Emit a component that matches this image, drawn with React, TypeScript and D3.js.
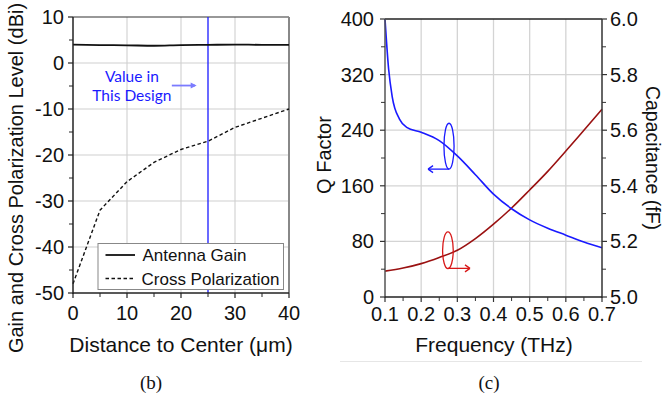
import React from "react";
import * as d3 from "d3";

// ---------- Data: panel (b) ----------
const distance = [0, 5, 10, 15, 20, 25, 30, 35, 40];
const antennaGain = [4.0, 3.9, 3.85, 3.75, 3.9, 3.95, 4.0, 3.95, 3.95];
const crossPol = [-48, -32, -25.8, -21.6, -18.8, -17, -14, -12, -10];
const bXTicks = [0, 10, 20, 30, 40];
const bYTicks = [10, 0, -10, -20, -30, -40, -50];
const designDistance = 25;

// ---------- Data: panel (c) ----------
const freqQ = [0.1, 0.11, 0.12, 0.14, 0.16, 0.2, 0.25, 0.3, 0.35, 0.4, 0.45, 0.5, 0.55, 0.6, 0.65, 0.7];
const qFactor = [400, 328, 288, 256, 244, 237, 225, 203, 176, 148, 127, 111, 99, 89, 79, 71];
const freqC = [0.1, 0.15, 0.2, 0.25, 0.3, 0.35, 0.4, 0.45, 0.5, 0.55, 0.6, 0.65, 0.7];
const capacitance = [5.093, 5.104, 5.12, 5.142, 5.168, 5.21, 5.262, 5.32, 5.385, 5.452, 5.525, 5.6, 5.675];
const cXTicks = [0.1, 0.2, 0.3, 0.4, 0.5, 0.6, 0.7];
const cQTicks = [0, 80, 160, 240, 320, 400];
const cCTicks = [5.0, 5.2, 5.4, 5.6, 5.8, 6.0];

const FONT = "'Liberation Sans', Arial, Helvetica, sans-serif";

function PanelB() {
  const x = d3.scaleLinear().domain([0, 40]).range([73, 289]);
  const y = d3.scaleLinear().domain([-50, 10]).range([293, 17]);
  const line = d3.line<[number, number]>().x(d => x(d[0])).y(d => y(d[1]));
  const smooth = d3.line<[number, number]>().x(d => x(d[0])).y(d => y(d[1])).curve(d3.curveMonotoneX);
  const gainPts = distance.map((d, i) => [d, antennaGain[i]] as [number, number]);
  const xpPts = distance.map((d, i) => [d, crossPol[i]] as [number, number]);
  const minorX = d3.range(5, 40, 10);
  const minorY = d3.range(-45, 10, 10);
  const [x0, x1] = x.range();
  const [y0, y1] = y.range();
  return (
    <g>
      {/* grid */}
      {bXTicks.slice(1, -1).map(t => (
        <line key={"gx" + t} x1={x(t)} x2={x(t)} y1={y1} y2={y0} stroke="#dcdcdc" strokeWidth={1.5} />
      ))}
      {bYTicks.slice(1, -1).map(t => (
        <line key={"gy" + t} x1={x0} x2={x1} y1={y(t)} y2={y(t)} stroke="#cfcfcf" strokeWidth={1} />
      ))}
      {/* frame */}
      <line x1={x0} x2={x1} y1={y1} y2={y1} stroke="#333" strokeWidth={1.2} />
      <line x1={x1} x2={x1} y1={y1} y2={y0} stroke="#888" strokeWidth={2} />
      {/* design line */}
      <line x1={x(designDistance)} x2={x(designDistance)} y1={y1} y2={y0} stroke="#1a1aff" strokeWidth={1.3} />
      {/* curves */}
      <path d={smooth(gainPts) || ""} fill="none" stroke="#111" strokeWidth={1.8} />
      <path d={line(xpPts) || ""} fill="none" stroke="#111" strokeWidth={1.4} strokeDasharray="3.5,2.5" />
      {/* annotation */}
      <text x={x(10.9)} y={y(-4.1)} textAnchor="middle" fontFamily="Lato, 'Open Sans', sans-serif" fontSize={15.5} fill="#1a1aff">Value in</text>
      <text x={x(10.9)} y={y(-8.2)} textAnchor="middle" fontFamily="Lato, 'Open Sans', sans-serif" fontSize={15.5} fill="#1a1aff">This Design</text>
      <line x1={x(18.3)} x2={x(22.6)} y1={y(-4.9)} y2={y(-4.9)} stroke="#7b7bff" strokeWidth={1.8} />
      <path d={`M${x(22.9)},${y(-4.9)} l-6,-3 l0,6 z`} fill="#7b7bff" />
      {/* axes */}
      <line x1={x0} x2={x0} y1={y1} y2={y0 + 1} stroke="#222" strokeWidth={1.5} />
      <line x1={x0} x2={x1} y1={y0} y2={y0} stroke="#222" strokeWidth={1.5} />
      {bYTicks.map(t => (
        <g key={"ty" + t}>
          <line x1={x0 - 5} x2={x0} y1={y(t)} y2={y(t)} stroke="#222" strokeWidth={1.2} />
          <text x={x0 - 9} y={y(t) + 7} textAnchor="end" fontFamily={FONT} fontSize={20} fill="#111">{t < 0 ? "-" + Math.abs(t) : t}</text>
        </g>
      ))}
      {minorY.map(t => (
        <line key={"my" + t} x1={x0 - 4} x2={x0} y1={y(t)} y2={y(t)} stroke="#222" strokeWidth={1} />
      ))}
      {bXTicks.map(t => (
        <g key={"tx" + t}>
          <line x1={x(t)} x2={x(t)} y1={y0} y2={y0 + 5} stroke="#222" strokeWidth={1.2} />
          <text x={x(t)} y={320} textAnchor="middle" fontFamily={FONT} fontSize={20} fill="#111">{t}</text>
        </g>
      ))}
      {minorX.map(t => (
        <line key={"mx" + t} x1={x(t)} x2={x(t)} y1={y0} y2={y0 + 4} stroke="#222" strokeWidth={1} />
      ))}
      {/* legend */}
      <rect x={98} y={243.5} width={185.5} height={46} fill="#fff" stroke="#888" strokeWidth={1} />
      <line x1={105.5} x2={135} y1={255} y2={255} stroke="#111" strokeWidth={1.8} />
      <text x={142.5} y={261} fontFamily={FONT} fontSize={17} fill="#111">Antenna Gain</text>
      <line x1={105.5} x2={135} y1={278.5} y2={278.5} stroke="#111" strokeWidth={1.4} strokeDasharray="3.5,2.5" />
      <text x={141.5} y={284.5} fontFamily={FONT} fontSize={17} fill="#111">Cross Polarization</text>
      {/* titles */}
      <text x={181} y={352} textAnchor="middle" fontFamily={FONT} fontSize={21} fill="#111">Distance to Center (μm)</text>
      <text transform="translate(23,178) rotate(-90)" textAnchor="middle" fontFamily={FONT} fontSize={20} fill="#111">Gain and Cross Polarization Level (dBi)</text>
      <text x={151} y={389} textAnchor="middle" fontFamily="'Liberation Serif', 'Times New Roman', serif" fontSize={19} fill="#111">(b)</text>
    </g>
  );
}

function PanelC() {
  const x = d3.scaleLinear().domain([0.1, 0.7]).range([385, 602]);
  const yQ = d3.scaleLinear().domain([0, 400]).range([297, 19]);
  const yC = d3.scaleLinear().domain([5, 6]).range([297, 19]);
  const qLine = d3.line<[number, number]>().x(d => x(d[0])).y(d => yQ(d[1])).curve(d3.curveMonotoneX);
  const cLine = d3.line<[number, number]>().x(d => x(d[0])).y(d => yC(d[1])).curve(d3.curveMonotoneX);
  const qPts = freqQ.map((f, i) => [f, qFactor[i]] as [number, number]);
  const cPts = freqC.map((f, i) => [f, capacitance[i]] as [number, number]);
  const [x0, x1] = x.range();
  const [y0, y1] = yQ.range();
  const minorX = d3.range(0.15, 0.7, 0.1);
  const minorQ = d3.range(40, 400, 80);
  const minorC = d3.range(5.1, 6.0, 0.2);
  const blue = "#1a1aff";
  const red = "#d81818";
  return (
    <g>
      {cXTicks.slice(1, -1).map(t => (
        <line key={"gx" + t} x1={x(t)} x2={x(t)} y1={y1} y2={y0} stroke="#d4d4d4" strokeWidth={1.3} />
      ))}
      {cQTicks.slice(1, -1).map(t => (
        <line key={"gy" + t} x1={x0} x2={x1} y1={yQ(t)} y2={yQ(t)} stroke="#d4d4d4" strokeWidth={1.3} />
      ))}
      <path d={cLine(cPts) || ""} fill="none" stroke="#9a1111" strokeWidth={1.6} />
      <path d={qLine(qPts) || ""} fill="none" stroke={blue} strokeWidth={1.6} />
      {/* annotations */}
      <ellipse cx={x(0.277)} cy={yQ(217)} rx={x(0.114) - x(0.1)} ry={yQ(0) - yQ(33)} fill="none" stroke={blue} strokeWidth={1.3} />
      <line x1={x(0.277)} x2={x(0.222)} y1={yQ(184)} y2={yQ(184)} stroke={blue} strokeWidth={1.3} />
      <path d={`M${x(0.219)},${yQ(184)} l5,-3.5 M${x(0.219)},${yQ(184)} l5,3.5`} stroke={blue} strokeWidth={1.3} fill="none" />
      <ellipse cx={x(0.274)} cy={yC(5.168)} rx={x(0.1147) - x(0.1)} ry={yC(5) - yC(5.066)} fill="none" stroke={red} strokeWidth={1.3} />
      <line x1={x(0.274)} x2={x(0.332)} y1={yC(5.103)} y2={yC(5.103)} stroke={red} strokeWidth={1.3} />
      <path d={`M${x(0.335)},${yC(5.103)} l-5,-3.5 M${x(0.335)},${yC(5.103)} l-5,3.5`} stroke={red} strokeWidth={1.3} fill="none" />
      {/* frame & axes */}
      <line x1={x0} x2={x1} y1={y1} y2={y1} stroke="#222" strokeWidth={1.3} />
      <line x1={x0} x2={x0} y1={y1} y2={y0 + 1} stroke="#555" strokeWidth={1.5} />
      <line x1={x1} x2={x1} y1={y1} y2={y0 + 1} stroke="#333" strokeWidth={1.5} />
      <line x1={x0} x2={x1} y1={y0} y2={y0} stroke="#222" strokeWidth={1.5} />
      {cQTicks.map(t => (
        <g key={"tq" + t}>
          <line x1={x0 - 5} x2={x0} y1={yQ(t)} y2={yQ(t)} stroke="#333" strokeWidth={1.2} />
          <text x={x0 - 11} y={yQ(t) + 7} textAnchor="end" fontFamily={FONT} fontSize={20} fill="#111">{t}</text>
        </g>
      ))}
      {minorQ.map(t => (
        <line key={"mq" + t} x1={x0 - 4} x2={x0} y1={yQ(t)} y2={yQ(t)} stroke="#333" strokeWidth={1} />
      ))}
      {cCTicks.map(t => (
        <g key={"tc" + t}>
          <line x1={x1} x2={x1 + 5} y1={yC(t)} y2={yC(t)} stroke="#333" strokeWidth={1.2} />
          <text x={x1 + 8} y={yC(t) + 7} textAnchor="start" fontFamily={FONT} fontSize={20} fill="#111">{t.toFixed(1)}</text>
        </g>
      ))}
      {minorC.map(t => (
        <line key={"mc" + t} x1={x1} x2={x1 + 4} y1={yC(t)} y2={yC(t)} stroke="#333" strokeWidth={1} />
      ))}
      {cXTicks.map(t => (
        <g key={"tx" + t}>
          <line x1={x(t)} x2={x(t)} y1={y0} y2={y0 + 5} stroke="#333" strokeWidth={1.2} />
          <text x={x(t)} y={321} textAnchor="middle" fontFamily={FONT} fontSize={20} fill="#111">{t.toFixed(1)}</text>
        </g>
      ))}
      {minorX.map(t => (
        <line key={"mx" + t} x1={x(t)} x2={x(t)} y1={y0} y2={y0 + 4} stroke="#333" strokeWidth={1} />
      ))}
      <text x={494} y={352} textAnchor="middle" fontFamily={FONT} fontSize={21} fill="#111">Frequency (THz)</text>
      <text transform="translate(331,155) rotate(-90)" textAnchor="middle" fontFamily={FONT} fontSize={20} fill="#111">Q Factor</text>
      <text transform="translate(646,158) rotate(90)" textAnchor="middle" fontFamily={FONT} fontSize={19.5} fill="#111">Capacitance (fF)</text>
      <line x1={340} x2={642} y1={361.5} y2={361.5} stroke="#e6e6e6" strokeWidth={1} />
      <text x={489} y={389} textAnchor="middle" fontFamily="'Liberation Serif', 'Times New Roman', serif" fontSize={19} fill="#111">(c)</text>
    </g>
  );
}

export default function App() {
  return (
    <svg width={665} height={400} style={{ position: "absolute", left: 0, top: 0, background: "#fff" }}>
      <rect width={665} height={400} fill="#fff" />
      <PanelB />
      <PanelC />
    </svg>
  );
}
